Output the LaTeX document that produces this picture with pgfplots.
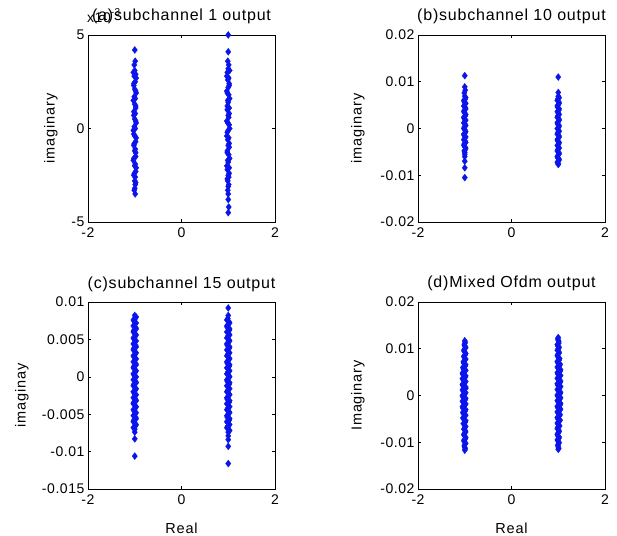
\documentclass[border=0pt]{standalone}
\usepackage{pgfplots}
\pgfplotsset{compat=1.18}
\usepackage{fontspec}
\setmainfont{Liberation Sans}
\newfontfamily\tickfont[LetterSpace=4]{Liberation Sans}
\newfontfamily\titfont[LetterSpace=5]{Liberation Sans}
\newfontfamily\labfont[LetterSpace=6]{Liberation Sans}
\definecolor{mblue}{RGB}{10,20,235}
\pgfplotsset{
  pts/.style={only marks, mark=diamond*, mark size=3.5pt, color=mblue, mark options={draw=mblue, fill=mblue, line width=0.3pt}},
  sub/.style={
    scale only axis, width=187pt, height=187pt,
    xmin=-2, xmax=2, xtick={-2,0,2}, xticklabels={-2,0,2},
    scaled x ticks=false, scaled y ticks=false,
    tick align=inside, major tick length=3pt,
    axis line style={line width=0.7pt},
    every tick/.style={black, line width=0.6pt},
    tick label style={font=\tickfont\fontsize{14}{16}\selectfont},
    xticklabel style={yshift=-2pt},
    title style={font=\titfont\fontsize{16}{18}\selectfont, at={(0.5,1)}, anchor=base, yshift=8pt},
    ylabel style={font=\labfont\fontsize{14.5}{16}\selectfont, anchor=center},
    xlabel style={font=\labfont\fontsize{14.5}{16}\selectfont, at={(axis description cs:0.5,0)}, anchor=base, yshift=-44pt},
  }
}
\begin{document}
\begin{tikzpicture}
\path[use as bounding box] (0,0) rectangle (617pt,535pt);
% (a)
\begin{axis}[sub, name=pa, at={(88pt,313pt)}, anchor=south west,
  ymin=-0.005, ymax=0.005, ytick={-0.005,0,0.005}, yticklabels={-5,0,5},
  title={(a)subchannel 1 output}, ylabel={imaginary},
  ylabel style={at={(axis description cs:-0.198,0.5)}}]
\addplot[pts] coordinates {(-1.00,0.0042) (-0.99,0.0036) (-1.01,0.0034) (-1.00,0.0031) (-0.98,0.0029) (-1.01,0.0028) (-0.99,0.0025) (-1.02,0.0024) (-1.00,0.0021) (-0.98,0.0020) (-1.01,0.0017) (-0.99,0.0016) (-1.00,0.0013) (-0.98,0.0012) (-1.02,0.0009) (-0.99,0.0008) (-1.00,0.0005) (-0.98,0.0004) (-1.01,0.0001) (-0.99,0.0000) (-1.02,-0.0003) (-1.00,-0.0004) (-0.98,-0.0007) (-1.01,-0.0008) (-0.99,-0.0011) (-1.00,-0.0012) (-0.98,-0.0015) (-1.02,-0.0016) (-0.99,-0.0019) (-1.00,-0.0020) (-0.98,-0.0023) (-1.01,-0.0024) (-0.99,-0.0026) (-1.00,-0.0028) (-0.99,-0.0030) (-1.00,-0.0032) (-0.99,-0.0035)};
\addplot[pts] coordinates {(-1.03,0.0030) (-0.97,0.0027) (-1.02,0.0023) (-0.97,0.0019) (-1.03,0.0015) (-0.98,0.0011) (-1.02,0.0007) (-0.97,0.0003) (-1.03,-0.0001) (-0.97,-0.0005) (-1.02,-0.0009) (-0.98,-0.0013) (-1.03,-0.0017) (-0.97,-0.0021) (-1.02,-0.0025) (-0.98,-0.0029) (-1.01,-0.0033)};
\addplot[pts] coordinates {(1.00,0.0050) (1.00,0.0041) (0.99,0.0036) (1.01,0.0034) (1.00,0.0032) (0.98,0.0030) (1.01,0.0027) (0.99,0.0026) (1.02,0.0023) (1.00,0.0022) (0.98,0.0019) (1.01,0.0018) (0.99,0.0015) (1.00,0.0014) (1.02,0.0011) (0.98,0.0010) (1.00,0.0007) (1.01,0.0006) (0.99,0.0003) (1.02,0.0002) (1.00,-0.0001) (0.98,-0.0002) (1.01,-0.0005) (0.99,-0.0006) (1.00,-0.0009) (1.02,-0.0010) (0.98,-0.0013) (1.01,-0.0014) (0.99,-0.0017) (1.00,-0.0018) (1.02,-0.0021) (0.98,-0.0022) (1.00,-0.0025) (1.01,-0.0026) (0.99,-0.0028) (1.00,-0.0031) (1.00,-0.0035) (1.01,-0.0042) (1.00,-0.0045)};
\addplot[pts] coordinates {(1.03,0.0031) (0.97,0.0028) (1.02,0.0024) (0.97,0.0020) (1.03,0.0016) (0.98,0.0012) (1.02,0.0008) (0.97,0.0004) (1.03,0.0000) (0.97,-0.0004) (1.02,-0.0008) (0.98,-0.0012) (1.03,-0.0016) (0.97,-0.0020) (1.02,-0.0024) (0.98,-0.0027) (1.01,-0.0030) (0.99,-0.0033) (1.00,-0.0038)};
\end{axis}
\node[font=\tickfont\fontsize{14}{16}\selectfont, anchor=base west, inner sep=0pt] at ([xshift=-1pt, yshift=12pt]pa.north west) {x10\raisebox{7pt}{\fontsize{10}{12}\selectfont -3}};
% (b)
\begin{axis}[sub, at={(418pt,313pt)}, anchor=south west,
  ymin=-0.02, ymax=0.02, ytick={-0.02,-0.01,0,0.01,0.02}, yticklabels={-0.02,-0.01,0,0.01,0.02},
  title={(b)subchannel 10 output}, ylabel={imaginary},
  ylabel style={at={(axis description cs:-0.321,0.5)}}]
\addplot[pts] coordinates {(-1.00,0.0113) (-1.00,0.0089) (-0.99,0.0082) (-1.01,0.0076) (-1.00,0.0069) (-0.99,0.0063) (-1.01,0.0057) (-1.00,0.0051) (-0.99,0.0045) (-1.01,0.0039) (-1.00,0.0033) (-0.99,0.0027) (-1.01,0.0021) (-1.00,0.0015) (-0.99,0.0009) (-1.01,0.0003) (-1.00,-0.0003) (-0.99,-0.0009) (-1.01,-0.0015) (-1.00,-0.0021) (-0.99,-0.0027) (-1.01,-0.0033) (-1.00,-0.0039) (-0.99,-0.0045) (-1.00,-0.0051) (-1.00,-0.0060) (-1.00,-0.0070) (-1.00,-0.0084) (-1.00,-0.0105)};
\addplot[pts] coordinates {(-0.98,0.0066) (-1.02,0.0060) (-0.98,0.0054) (-1.02,0.0048) (-0.98,0.0042) (-1.02,0.0036) (-0.98,0.0030) (-1.02,0.0024) (-0.98,0.0018) (-1.02,0.0012) (-0.98,0.0006) (-1.02,0.0000) (-0.98,-0.0006) (-1.02,-0.0012) (-0.98,-0.0018) (-1.02,-0.0024) (-0.98,-0.0030) (-1.02,-0.0036) (-0.98,-0.0042) (-1.01,-0.0048) (-1.00,-0.0055)};
\addplot[pts] coordinates {(1.00,0.0110) (1.00,0.0077) (1.00,0.0069) (0.99,0.0063) (1.01,0.0057) (1.00,0.0051) (0.99,0.0045) (1.01,0.0039) (1.00,0.0033) (0.99,0.0027) (1.01,0.0021) (1.00,0.0015) (0.99,0.0009) (1.01,0.0003) (1.00,-0.0003) (0.99,-0.0009) (1.01,-0.0015) (1.00,-0.0021) (0.99,-0.0027) (1.01,-0.0033) (1.00,-0.0039) (0.99,-0.0045) (1.01,-0.0051) (1.00,-0.0057) (0.99,-0.0063) (1.01,-0.0069) (1.00,-0.0075) (1.00,-0.0077)};
\addplot[pts] coordinates {(1.02,0.0066) (0.98,0.0060) (1.02,0.0054) (0.98,0.0048) (1.02,0.0042) (0.98,0.0036) (1.02,0.0030) (0.98,0.0024) (1.02,0.0018) (0.98,0.0012) (1.02,0.0006) (0.98,0.0000) (1.02,-0.0006) (0.98,-0.0012) (1.02,-0.0018) (0.98,-0.0024) (1.02,-0.0030) (0.98,-0.0036) (1.02,-0.0042) (0.98,-0.0048) (1.02,-0.0054) (0.98,-0.0060) (1.02,-0.0066) (0.98,-0.0072)};
\end{axis}
% (c)
\begin{axis}[sub, at={(88pt,46pt)}, anchor=south west,
  ymin=-0.015, ymax=0.01, ytick={-0.015,-0.01,-0.005,0,0.005,0.01}, yticklabels={-0.015,-0.01,-0.005,0,0.005,0.01},
  title={(c)subchannel 15 output}, ylabel={imaginay}, xlabel={Real},
  ylabel style={at={(axis description cs:-0.353,0.5)}}]
\addplot[pts] coordinates {(-1.00,0.0082) (-0.99,0.0078) (-1.01,0.0074) (-1.00,0.0070) (-0.98,0.0066) (-1.02,0.0062) (-1.00,0.0058) (-0.99,0.0054) (-1.01,0.0050) (-1.00,0.0046) (-0.98,0.0042) (-1.02,0.0038) (-1.00,0.0034) (-0.99,0.0030) (-1.01,0.0026) (-1.00,0.0022) (-0.98,0.0018) (-1.02,0.0014) (-1.00,0.0010) (-0.99,0.0006) (-1.01,0.0002) (-1.00,-0.0002) (-0.98,-0.0006) (-1.02,-0.0010) (-1.00,-0.0014) (-0.99,-0.0018) (-1.01,-0.0022) (-1.00,-0.0026) (-0.98,-0.0030) (-1.02,-0.0034) (-1.00,-0.0038) (-0.99,-0.0042) (-1.01,-0.0046) (-1.00,-0.0050) (-0.98,-0.0054) (-1.02,-0.0058) (-1.00,-0.0062) (-0.99,-0.0066) (-1.00,-0.0070) (-1.00,-0.0074) (-1.00,-0.0083) (-1.00,-0.0106)};
\addplot[pts] coordinates {(-0.97,0.0080) (-1.03,0.0076) (-0.97,0.0072) (-1.03,0.0068) (-0.97,0.0064) (-1.03,0.0060) (-0.97,0.0056) (-1.03,0.0052) (-0.97,0.0048) (-1.03,0.0044) (-0.97,0.0040) (-1.03,0.0036) (-0.97,0.0032) (-1.03,0.0028) (-0.97,0.0024) (-1.03,0.0020) (-0.97,0.0016) (-1.03,0.0012) (-0.97,0.0008) (-1.03,0.0004) (-0.97,0.0000) (-1.03,-0.0004) (-0.97,-0.0008) (-1.03,-0.0012) (-0.97,-0.0016) (-1.03,-0.0020) (-0.97,-0.0024) (-1.03,-0.0028) (-0.97,-0.0032) (-1.03,-0.0036) (-0.97,-0.0040) (-1.03,-0.0044) (-0.97,-0.0048) (-1.03,-0.0052) (-0.97,-0.0056) (-1.03,-0.0060) (-0.97,-0.0064) (-1.03,-0.0068)};
\addplot[pts] coordinates {(1.00,0.0092) (1.00,0.0082) (0.99,0.0078) (1.01,0.0074) (1.00,0.0070) (0.98,0.0066) (1.02,0.0062) (1.00,0.0058) (0.99,0.0054) (1.01,0.0050) (1.00,0.0046) (0.98,0.0042) (1.02,0.0038) (1.00,0.0034) (0.99,0.0030) (1.01,0.0026) (1.00,0.0022) (0.98,0.0018) (1.02,0.0014) (1.00,0.0010) (0.99,0.0006) (1.01,0.0002) (1.00,-0.0002) (0.98,-0.0006) (1.02,-0.0010) (1.00,-0.0014) (0.99,-0.0018) (1.01,-0.0022) (1.00,-0.0026) (0.98,-0.0030) (1.02,-0.0034) (1.00,-0.0038) (0.99,-0.0042) (1.01,-0.0046) (1.00,-0.0050) (0.98,-0.0054) (1.02,-0.0058) (1.00,-0.0062) (0.99,-0.0066) (1.01,-0.0070) (1.00,-0.0074) (1.00,-0.0079) (1.00,-0.0084) (1.00,-0.0093) (1.00,-0.0116)};
\addplot[pts] coordinates {(0.97,0.0076) (1.03,0.0072) (0.97,0.0068) (1.03,0.0064) (0.97,0.0060) (1.03,0.0056) (0.97,0.0052) (1.03,0.0048) (0.97,0.0044) (1.03,0.0040) (0.97,0.0036) (1.03,0.0032) (0.97,0.0028) (1.03,0.0024) (0.97,0.0020) (1.03,0.0016) (0.97,0.0012) (1.03,0.0008) (0.97,0.0004) (1.03,0.0000) (0.97,-0.0004) (1.03,-0.0008) (0.97,-0.0012) (1.03,-0.0016) (0.97,-0.0020) (1.03,-0.0024) (0.97,-0.0028) (1.03,-0.0032) (0.97,-0.0036) (1.03,-0.0040) (0.97,-0.0044) (1.03,-0.0048) (0.97,-0.0052) (1.03,-0.0056) (0.97,-0.0060) (1.03,-0.0064) (0.97,-0.0068) (1.03,-0.0072)};
\end{axis}
% (d)
\begin{axis}[sub, at={(418pt,46pt)}, anchor=south west,
  ymin=-0.02, ymax=0.02, ytick={-0.02,-0.01,0,0.01,0.02}, yticklabels={-0.02,-0.01,0,0.01,0.02},
  title={(d)Mixed Ofdm output}, ylabel={Imaginary}, xlabel={Real},
  ylabel style={at={(axis description cs:-0.321,0.5)}}]
\addplot[pts] coordinates {(-1.00,0.0117) (-1.00,0.0111) (-0.99,0.0105) (-1.01,0.0099) (-1.00,0.0093) (-0.99,0.0087) (-1.01,0.0081) (-1.00,0.0075) (-1.02,0.0069) (-0.99,0.0063) (-1.03,0.0057) (-1.00,0.0051) (-1.04,0.0045) (-0.99,0.0039) (-1.03,0.0033) (-1.00,0.0027) (-1.04,0.0021) (-0.98,0.0015) (-1.03,0.0009) (-1.00,0.0003) (-1.04,-0.0003) (-0.99,-0.0009) (-1.03,-0.0015) (-1.00,-0.0021) (-1.04,-0.0027) (-0.99,-0.0033) (-1.03,-0.0039) (-1.00,-0.0045) (-1.02,-0.0051) (-0.99,-0.0057) (-1.01,-0.0063) (-1.00,-0.0069) (-0.99,-0.0075) (-1.01,-0.0081) (-1.00,-0.0087) (-0.99,-0.0093) (-1.01,-0.0099) (-1.00,-0.0105) (-1.00,-0.0111) (-1.00,-0.0117)};
\addplot[pts] coordinates {(-0.99,0.0114) (-1.01,0.0108) (-0.98,0.0102) (-1.02,0.0096) (-0.98,0.0090) (-1.02,0.0084) (-0.98,0.0078) (-1.03,0.0072) (-0.98,0.0066) (-1.04,0.0060) (-0.98,0.0054) (-1.05,0.0048) (-0.98,0.0042) (-1.05,0.0036) (-0.98,0.0030) (-1.05,0.0024) (-0.98,0.0018) (-1.05,0.0012) (-0.98,0.0006) (-1.05,0.0000) (-0.98,-0.0006) (-1.05,-0.0012) (-0.98,-0.0018) (-1.05,-0.0024) (-0.98,-0.0030) (-1.04,-0.0036) (-0.98,-0.0042) (-1.04,-0.0048) (-0.98,-0.0054) (-1.03,-0.0060) (-0.98,-0.0066) (-1.02,-0.0072) (-0.98,-0.0078) (-1.02,-0.0084) (-0.98,-0.0090) (-1.02,-0.0096) (-0.98,-0.0102) (-1.01,-0.0108) (-0.99,-0.0114)};
\addplot[pts] coordinates {(1.00,0.0124) (1.00,0.0118) (1.01,0.0112) (0.99,0.0106) (1.00,0.0100) (1.01,0.0094) (0.99,0.0088) (1.00,0.0082) (1.02,0.0076) (0.99,0.0070) (1.03,0.0064) (1.00,0.0058) (1.04,0.0052) (0.99,0.0046) (1.03,0.0040) (1.00,0.0034) (1.04,0.0028) (0.99,0.0022) (1.03,0.0016) (1.00,0.0010) (1.04,0.0004) (0.99,-0.0002) (1.03,-0.0008) (1.00,-0.0014) (1.04,-0.0020) (0.99,-0.0026) (1.03,-0.0032) (1.00,-0.0038) (1.02,-0.0044) (0.99,-0.0050) (1.01,-0.0056) (1.00,-0.0062) (0.99,-0.0068) (1.01,-0.0074) (1.00,-0.0080) (0.99,-0.0086) (1.01,-0.0092) (1.00,-0.0098) (1.00,-0.0104) (1.00,-0.0110) (1.00,-0.0115)};
\addplot[pts] coordinates {(0.99,0.0121) (1.01,0.0115) (0.98,0.0109) (1.02,0.0103) (0.98,0.0097) (1.02,0.0091) (0.98,0.0085) (1.03,0.0079) (0.98,0.0073) (1.04,0.0067) (0.98,0.0061) (1.05,0.0055) (0.98,0.0049) (1.05,0.0043) (0.98,0.0037) (1.05,0.0031) (0.98,0.0025) (1.05,0.0019) (0.98,0.0013) (1.05,0.0007) (0.98,0.0001) (1.05,-0.0005) (0.98,-0.0011) (1.05,-0.0017) (0.98,-0.0023) (1.05,-0.0029) (0.98,-0.0035) (1.04,-0.0041) (0.98,-0.0047) (1.04,-0.0053) (0.98,-0.0059) (1.03,-0.0065) (0.98,-0.0071) (1.02,-0.0077) (0.98,-0.0083) (1.02,-0.0089) (0.98,-0.0095) (1.02,-0.0101) (0.99,-0.0107) (1.01,-0.0113)};
\end{axis}
\end{tikzpicture}
\end{document}
